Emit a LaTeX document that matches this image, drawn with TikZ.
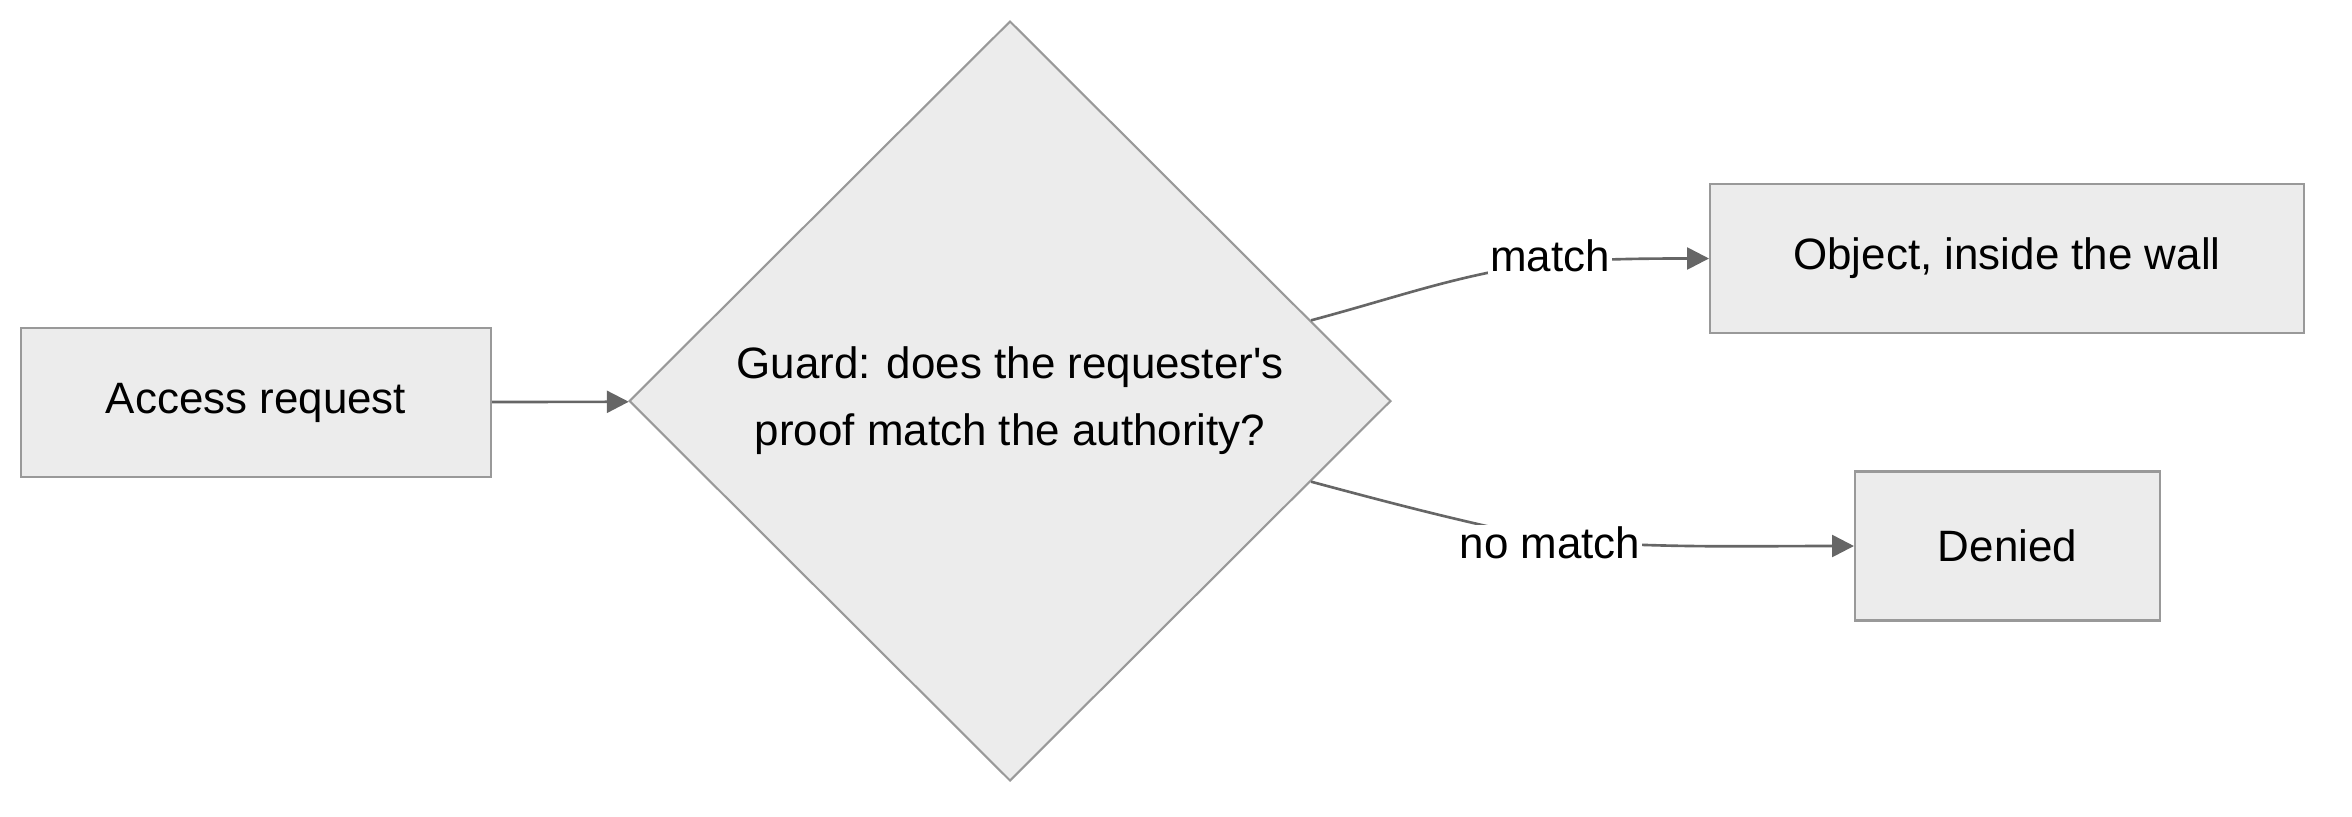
\documentclass[tikz,border=0pt]{standalone}
\usepackage{fontspec}
\setmainfont{Liberation Sans}
\usetikzlibrary{shapes.geometric, arrows.meta}

\definecolor{boxfill}{HTML}{ECECEC}
\definecolor{boxline}{HTML}{999999}
\definecolor{edgeline}{HTML}{666666}

\begin{document}
\begin{tikzpicture}[x=0.02cm, y=0.02cm]
    \tikzstyle{block}=[rectangle, draw=boxline, fill=boxfill, line width=1.2pt, inner sep=0pt, minimum height=2.98cm, font=\fontsize{25}{30}\selectfont]
    \tikzstyle{guardbox}=[diamond, draw=boxline, fill=boxfill, line width=1.2pt, inner sep=0pt, minimum width=15.24cm, minimum height=15.2cm, align=center, font=\fontsize{25}{38}\selectfont]
    \tikzstyle{edge}=[draw=edgeline, line width=1.5pt, -{Triangle[length=12.5pt, width=12.5pt]}]
    \tikzstyle{tag}=[fill=white, inner sep=1pt, font=\fontsize{25}{30}\selectfont]

    \useasboundingbox (0, 0) rectangle (2352, -816);

    \node[block, minimum width=9.4cm] (access) at (256, -402.5) {Access request};
    \node[guardbox] (guard) at (1010, -401) {Guard: does the requester\textquotesingle s\\proof match the authority?};
    \node[block, minimum width=11.88cm] (object) at (2007, -258.5) {Object, inside the wall};
    \node[block, minimum width=6.1cm] (denied) at (2007.5, -546) {Denied};

    \draw[edge] (access) -- (guard);

    \coordinate (yesmid) at (1550, -262);
    \coordinate (nomid) at (1550, -540);

    \draw[edge] (guard.15) to[out=15, in=188] (yesmid) to[out=3, in=180] (object.west);
    \draw[edge] (guard.-15) to[out=-15, in=168] (nomid) to[out=-4, in=180] (denied.west);

    % labels on top of the curves
    \node[tag] (yes) at (1550, -256) {match};
    \node[tag] (no) at (1550, -543) {no match};
\end{tikzpicture}
\end{document}
